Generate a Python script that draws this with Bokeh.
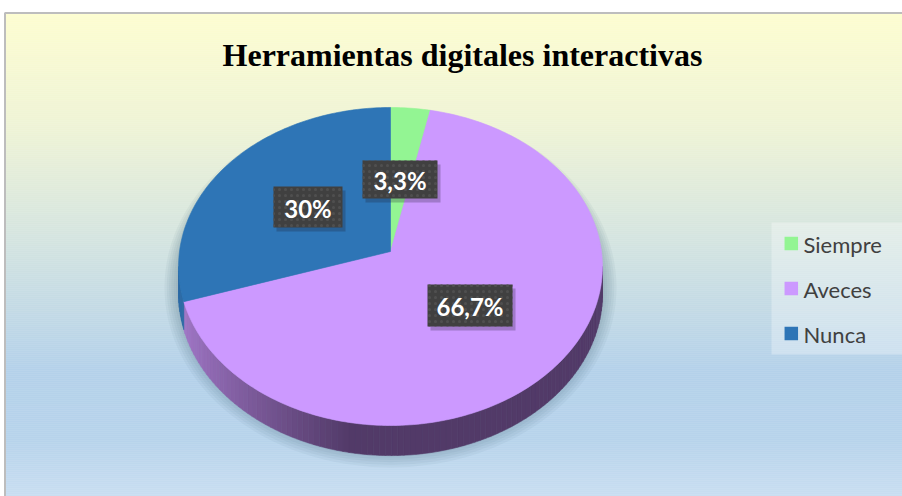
import numpy as np
from bokeh.plotting import figure
from bokeh.models import Range1d
from bokeh.core.properties import value
from bokeh.embed import file_html
from bokeh.resources import INLINE

# ---------------- data ----------------
title_text = "Herramientas digitales interactivas"
categories = ["Siempre", "Aveces", "Nunca"]
percentages = [3.3, 66.7, 30.0]
label_texts = ["3,3%", "66,7%", "30%"]

# ---------------- styles / layout ----------------
colors = ["#93f593", "#cc99ff", "#2e75b6"]
side_light = ["#6cc46c", "#a378c9", "#2b6aa6"]
side_dark = ["#3f7a3f", "#523a68", "#1d4f7c"]
label_pos = [(399.5, 179), (469.5, 305), (307.5, 206.5)]
label_size = [(75, 38), (85, 42), (69, 41)]

W, H = 902, 496
p = figure(width=W, height=H, x_range=Range1d(0, W), y_range=Range1d(H, 0),
           output_backend="svg", toolbar_location=None, min_border=0,
           x_axis_location=None, y_axis_location=None)
p.grid.visible = False
p.outline_line_color = None
p.background_fill_color = "white"
p.border_fill_color = "white"

# background gradient
stops_y = [12, 130, 240, 370, 440, 496]
stops_c = [(253, 253, 208), (238, 243, 214), (212, 228, 224), (180, 209, 234), (183, 211, 235), (201, 222, 241)]
ys = np.arange(12, 497, 2)
bg_cols = []
for y in ys:
    c = [int(round(np.interp(y + 1, stops_y, [s[k] for s in stops_c]))) for k in range(3)]
    bg_cols.append("#%02x%02x%02x" % tuple(c))
p.quad(left=5, right=W, top=ys, bottom=ys + 2, fill_color=bg_cols, line_color=bg_cols, line_width=0.5)

# frame
p.line([4.5, 4.5, W], [H, 12.5, 12.5], line_color="#bdbdbd", line_width=2)

# pie geometry (perspective-projected disc)
cx, cy0, A, B, K, D = 390, 251, 211, 157.6, 0.0943, 27.2

def pt(phi, extrude=False):
    """phi: degrees clockwise from the back (12 o'clock)."""
    t = np.radians(phi)
    u, v = np.sin(t), np.cos(t)
    s = 1.0 + K * v
    x = cx + A * u / s
    y = cy0 - B * v / s
    if extrude:
        y = y + D / s
    return x, y

# soft shadow
for k in range(11):
    p.ellipse(x=cx, y=281 + k * 0.6, width=2 * (203 + 2.3 * k), height=2 * (160 + 2.0 * k),
              fill_color="#465e72", fill_alpha=0.06, line_color=None)

total = float(sum(percentages))
cum = np.concatenate([[0.0], np.cumsum(percentages)])
phi_lo = np.degrees(np.arccos(-K))          # right silhouette
phi_hi = 360 - phi_lo                       # left silhouette

def mix(c1, c2, t):
    h1 = [int(c1[i:i + 2], 16) for i in (1, 3, 5)]
    h2 = [int(c2[i:i + 2], 16) for i in (1, 3, 5)]
    return "#%02x%02x%02x" % tuple(int(round(h1[k] + (h2[k] - h1[k]) * t)) for k in range(3))

# sides
sx, sy, sc = [], [], []
for i in range(len(percentages)):
    f0 = 360 * cum[i] / total
    f1 = 360 * cum[i + 1] / total
    lo, hi = max(f0, phi_lo), min(f1, phi_hi)
    if lo < hi:
        n = max(2, int((hi - lo) / 1.5) + 1)
        edges = np.linspace(lo, hi, n)
        for j in range(n - 1):
            th = np.linspace(edges[j], edges[j + 1], 4)
            x_top, y_top = pt(th)
            x_bot, y_bot = pt(th[::-1], extrude=True)
            xm = np.mean(x_top)
            tt = np.clip((xm - 182) / 168.0, 0, 1) ** 0.8
            col = mix(side_light[i], side_dark[i], tt)
            sx.append(list(x_top) + list(x_bot))
            sy.append(list(y_top) + list(y_bot))
            sc.append(col)
p.patches(sx, sy, fill_color=sc, line_color=sc, line_width=0.6)

# top faces
tx, ty = [], []
for i in range(len(percentages)):
    f0 = 360 * cum[i] / total
    f1 = 360 * cum[i + 1] / total
    th = np.linspace(f0, f1, max(3, int(abs(f1 - f0)) + 2))
    x_arc, y_arc = pt(th)
    tx.append([cx] + list(x_arc))
    ty.append([cy0] + list(y_arc))
p.patches(tx, ty, fill_color=colors, line_color=colors, line_width=0.6)

# data labels
lx = [q[0] for q in label_pos]
ly = [q[1] for q in label_pos]
lw = [s[0] for s in label_size]
lh = [s[1] for s in label_size]
p.rect(x=[v + 3 for v in lx], y=[v + 4 for v in ly], width=lw, height=lh,
       fill_color="#1a1a2a", fill_alpha=0.25, line_color=None)
p.rect(x=lx, y=ly, width=lw, height=lh, fill_color="#404040", line_color=None,
       hatch_pattern="dot", hatch_color="#4f4f4f", hatch_scale=6, hatch_weight=1)
p.text(x=lx, y=[v + 1 for v in ly], text=label_texts, text_color="white", text_font=value("Lato"),
       text_font_style="bold", text_font_size="24px", text_align="center", text_baseline="middle")

# legend
p.quad(left=771, right=W, top=222, bottom=354, fill_color="white", fill_alpha=0.3, line_color=None)
leg_y = [243, 288, 333]
p.rect(x=[790.8] * 3, y=leg_y, width=13.5, height=13.5, fill_color=colors, line_color=None)
p.text(x=[803] * 3, y=[v + 1 for v in leg_y], text=categories, text_color="#404040",
       text_font=value("Lato"), text_font_size="22px", text_align="left", text_baseline="middle")

# title
p.text(x=[462], y=[54], text=[title_text], text_color="black", text_font=value("Liberation Serif"),
       text_font_style="bold", text_font_size="32px", text_align="center", text_baseline="middle")

open("out.html", "w").write(file_html(p, INLINE))
